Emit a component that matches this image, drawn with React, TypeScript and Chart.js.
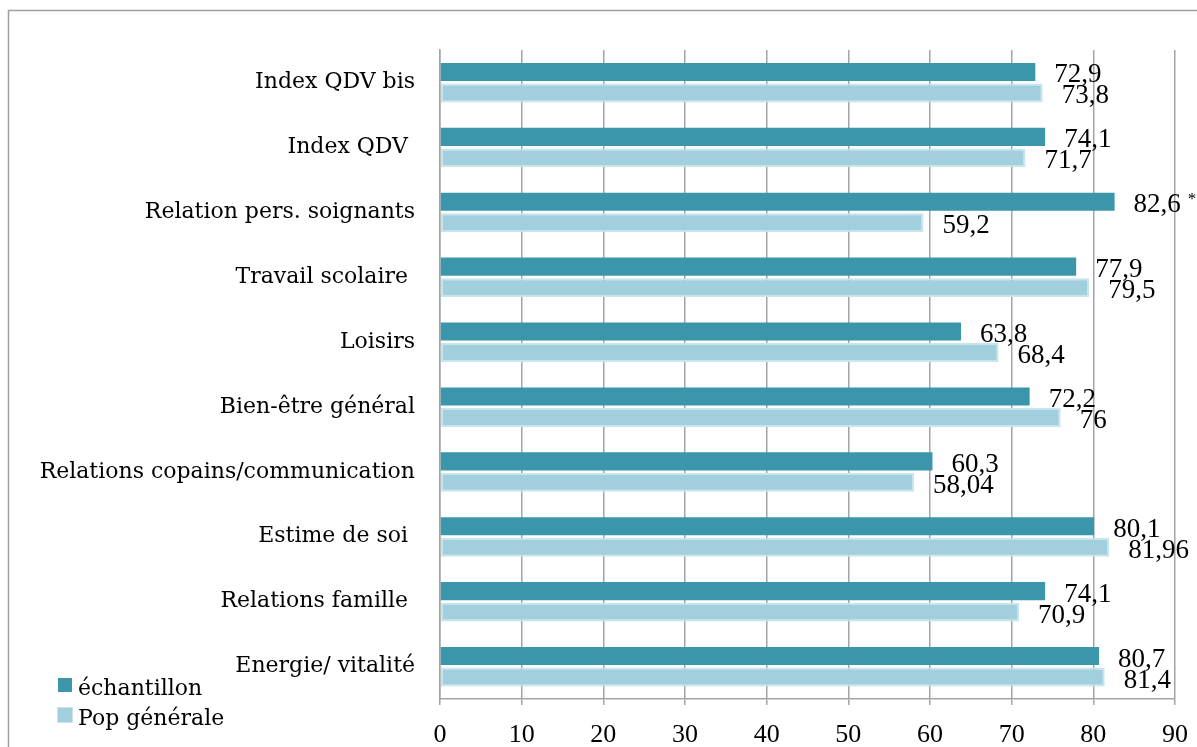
import React, { useEffect, useRef } from "react";
import { Chart, registerables } from "chart.js";

Chart.register(...registerables);

const categories = [
  "Index QDV bis",
  "Index QDV ",
  "Relation pers. soignants",
  "Travail scolaire ",
  "Loisirs",
  "Bien-être général",
  "Relations copains/communication",
  "Estime de soi ",
  "Relations famille ",
  "Energie/ vitalité",
];
const echantillon = [72.9, 74.1, 82.6, 77.9, 63.8, 72.2, 60.3, 80.1, 74.1, 80.7];
const popGenerale = [73.8, 71.7, 59.2, 79.5, 68.4, 76, 58.04, 81.96, 70.9, 81.4];
const echantillonNotes = ["", "", "*", "", "", "", "", "", "", ""];
const xTicks = [0, 10, 20, 30, 40, 50, 60, 70, 80, 90];
const seriesNames = ["échantillon", "Pop générale"];

const DARK = "#3c96ab";
const LIGHT = "#a1cfdd";
const LIGHT_BORDER = "#c8e4ed";
const GRID = "#a4a4a4";

const fmt = (v: number) => String(v).replace(".", ",");

const overlayPlugin = {
  id: "overlay",
  afterDatasetsDraw(chart: any) {
    const ctx = chart.ctx;
    ctx.save();
    ctx.fillStyle = "#000";
    ctx.textAlign = "left";
    ctx.textBaseline = "alphabetic";
    chart.data.datasets.forEach((ds: any, di: number) => {
      const meta = chart.getDatasetMeta(di);
      meta.data.forEach((bar: any, i: number) => {
        const v = ds.data[i];
        ctx.font = "27px 'Liberation Serif'";
        const txt = fmt(v);
        const x = bar.x + 19;
        const y = bar.y + 10.5;
        ctx.fillText(txt, x, y);
        if (di === 0 && echantillonNotes[i]) {
          const w = ctx.measureText(txt).width;
          ctx.font = "17px 'Liberation Serif'";
          ctx.fillText(echantillonNotes[i], x + w + 7, y - 8);
        }
      });
    });
    ctx.restore();
  },
  afterDraw(chart: any) {
    const ctx = chart.ctx;
    ctx.save();
    // outer frame
    ctx.strokeStyle = "#a0a0a0";
    ctx.lineWidth = 1.5;
    ctx.beginPath();
    ctx.moveTo(8.5, 747);
    ctx.lineTo(8.5, 10.5);
    ctx.lineTo(1197, 10.5);
    ctx.stroke();
    // legend
    const colors = [DARK, LIGHT];
    const ys = [678, 708];
    ctx.font = "22px 'DejaVu Serif'";
    ctx.textBaseline = "alphabetic";
    ctx.textAlign = "left";
    seriesNames.forEach((name, i) => {
      if (i === 1) {
        ctx.fillStyle = LIGHT_BORDER;
        ctx.fillRect(57, ys[i] - 1, 16, 16);
      }
      ctx.fillStyle = colors[i];
      ctx.fillRect(58, ys[i], 14, 14);
      ctx.fillStyle = "#000";
      ctx.fillText(name, 78, ys[i] + 17);
    });
    ctx.restore();
  },
};

export default function App() {
  const ref = useRef<HTMLCanvasElement>(null);
  useEffect(() => {
    if (!ref.current) return;
    const chart = new Chart(ref.current, {
      type: "bar",
      data: {
        labels: categories,
        datasets: [
          {
            label: seriesNames[0],
            data: echantillon,
            backgroundColor: DARK,
            borderWidth: 0,
            categoryPercentage: 0.647,
            barPercentage: 0.86,
          },
          {
            label: seriesNames[1],
            data: popGenerale,
            backgroundColor: LIGHT,
            borderColor: LIGHT_BORDER,
            borderWidth: 2,
            borderSkipped: false,
            categoryPercentage: 0.647,
            barPercentage: 0.9,
          },
        ],
      },
      options: {
        indexAxis: "y",
        responsive: false,
        animation: false,
        layout: { padding: { top: 50, right: 22, left: 0, bottom: 0 } },
        plugins: {
          legend: { display: false },
          tooltip: { enabled: false },
        },
        scales: {
          x: {
            min: 0,
            max: 90,
            afterBuildTicks: (scale: any) => {
              scale.ticks = xTicks.map((v) => ({ value: v }));
            },
            afterFit: (scale: any) => {
              scale.height = 48;
              scale.paddingLeft = 0;
              scale.paddingRight = 0;
            },
            grid: {
              color: GRID,
              lineWidth: 1.5,
              tickLength: 6,
              drawTicks: true,
            },
            border: { color: GRID, width: 1.5 },
            ticks: {
              color: "#000",
              font: { family: "'Liberation Serif'", size: 26 },
              padding: 15,
              maxRotation: 0,
            },
          },
          y: {
            afterFit: (scale: any) => {
              scale.width = 440;
              scale.paddingTop = 0;
              scale.paddingBottom = 0;
            },
            grid: { display: false },
            border: { display: true, color: GRID, width: 1.5 },
            ticks: {
              color: "#000",
              font: { family: "'DejaVu Serif'", size: 22 },
              padding: 17,
              autoSkip: false,
            },
          },
        },
      },
      plugins: [overlayPlugin],
    });
    return () => chart.destroy();
  }, []);
  return (
    <div style={{ position: "fixed", left: 0, top: 0, width: 1197, height: 747, background: "#fff" }}>
      <canvas ref={ref} width={1197} height={747} style={{ display: "block" }} />
    </div>
  );
}
